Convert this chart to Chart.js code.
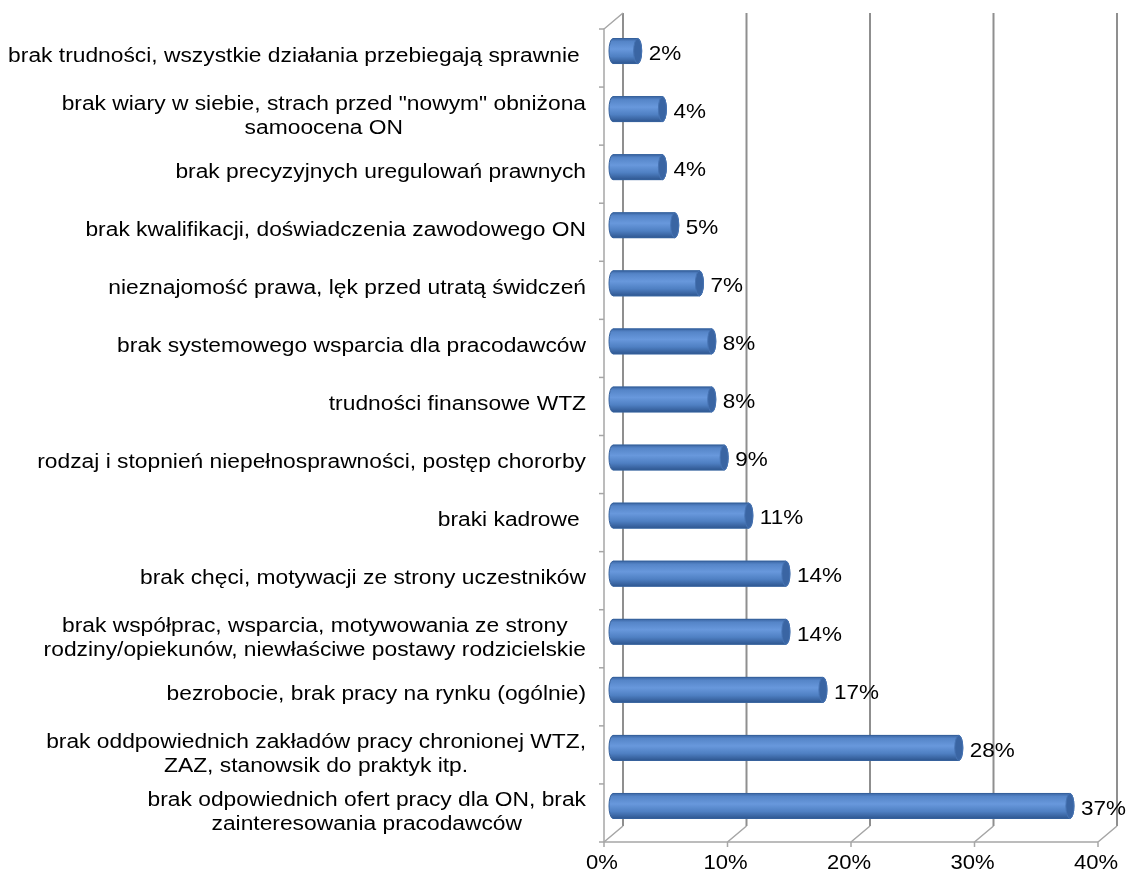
<!DOCTYPE html>
<html>
<head>
<meta charset="utf-8">
<script src="https://cdn.jsdelivr.net/npm/chart.js@4"></script>
<style>
  html, body { margin: 0; padding: 0; background: #fff; }
  #wrap { width: 1131px; height: 879px; }
</style>
</head>
<body>
<div id="wrap"><canvas id="chart" width="1131" height="879"></canvas></div>
<script>
// categories, top to bottom (multi-line labels as arrays)
const categories = [
    ['brak trudności, wszystkie działania przebiegają sprawnie '],
    ['brak wiary w siebie, strach przed "nowym" obniżona', 'samoocena ON'],
    ['brak precyzyjnych uregulowań prawnych'],
    ['brak kwalifikacji, doświadczenia zawodowego ON'],
    ['nieznajomość prawa, lęk przed utratą świdczeń'],
    ['brak systemowego wsparcia dla pracodawców'],
    ['trudności finansowe WTZ'],
    ['rodzaj i stopnień niepełnosprawności, postęp chororby'],
    ['braki kadrowe '],
    ['brak chęci, motywacji ze strony uczestników'],
    ['brak współprac, wsparcia, motywowania ze strony', 'rodziny/opiekunów, niewłaściwe postawy rodzicielskie'],
    ['bezrobocie, brak pracy na rynku (ogólnie)'],
    ['brak oddpowiednich zakładów pracy chronionej WTZ,', 'ZAZ, stanowsik do praktyk itp.'],
    ['brak odpowiednich ofert pracy dla ON, brak', 'zainteresowania pracodawców']
];
const values = [2, 4, 4, 5, 7, 8, 8, 9, 11, 14, 14, 17, 28, 37];
const xTicks = [0, 10, 20, 30, 40];

const FONT = '"Liberation Sans", Arial, sans-serif';
const DEPTH = { x: 19, y: -16 };   // back wall offset
const BAR_SHIFT = { x: 9, y: -7 };   // bars sit mid-depth
const TEXT_STRETCH = 1.14;          // the original text is a bit wide

// draw text stretched horizontally, anchored by its centre
function wideText(ctx, txt, cx, cy, sx) {
    ctx.save();
    ctx.translate(cx, cy);
    ctx.scale(sx, 1);
    ctx.textAlign = 'center';
    ctx.fillText(txt, 0, 0);
    ctx.restore();
}

const wallsPlugin = {
    id: 'walls',
    beforeDatasetsDraw(chart) {
        const ctx = chart.ctx;
        const xs = chart.scales.x;
        const a = chart.chartArea;
        ctx.save();
        // back wall gridlines
        ctx.strokeStyle = '#8f8f8f';
        ctx.lineWidth = 2;
        xTicks.forEach(v => {
            const px = xs.getPixelForValue(v) + DEPTH.x;
            ctx.beginPath();
            ctx.moveTo(px, a.top + DEPTH.y);
            ctx.lineTo(px, a.bottom + DEPTH.y);
            ctx.stroke();
        });
        // floor diagonals + front edge
        ctx.strokeStyle = '#a6a6a6';
        ctx.lineWidth = 1.5;
        xTicks.forEach(v => {
            const px = xs.getPixelForValue(v);
            ctx.beginPath();
            ctx.moveTo(px, a.bottom);
            ctx.lineTo(px + DEPTH.x, a.bottom + DEPTH.y);
            ctx.moveTo(px, a.bottom);
            ctx.lineTo(px, a.bottom + 5);
            ctx.stroke();
        });
        ctx.beginPath();
        ctx.moveTo(a.left, a.bottom);
        ctx.lineTo(a.right, a.bottom);
        // left wall front edge and top diagonal
        ctx.moveTo(a.left, a.bottom);
        ctx.lineTo(a.left, a.top);
        ctx.lineTo(a.left + DEPTH.x, a.top + DEPTH.y);
        ctx.stroke();
        // category ticks on the left edge
        const step = (a.bottom - a.top) / categories.length;
        for (let i = 0; i <= categories.length; i++) {
            const py = a.top + i * step;
            ctx.beginPath();
            ctx.moveTo(a.left - 5, py);
            ctx.lineTo(a.left, py);
            ctx.stroke();
        }
        ctx.restore();

        // bars drawn mid-depth
        ctx.save();
        ctx.translate(BAR_SHIFT.x, BAR_SHIFT.y);
    },
    afterDatasetsDraw(chart) {
        const ctx = chart.ctx;
        ctx.restore();
        const meta = chart.getDatasetMeta(0);
        ctx.save();
        ctx.translate(BAR_SHIFT.x, BAR_SHIFT.y);
        meta.data.forEach((bar, i) => {
            const h = bar.height;
            const top = bar.y - h / 2, bottom = bar.y + h / 2;
            const rx = 4, ry = h / 2;
            const g = ctx.createLinearGradient(0, top, 0, bottom);
            g.addColorStop(0, '#3c67a5');
            g.addColorStop(0.12, '#5585c8');
            g.addColorStop(0.42, '#6898dc');
            g.addColorStop(0.72, '#4f80c3');
            g.addColorStop(1, '#2f5791');
            ctx.beginPath();
            ctx.moveTo(bar.base, top);
            ctx.lineTo(bar.x, top);
            ctx.ellipse(bar.x, bar.y, rx, ry, 0, -Math.PI / 2, Math.PI / 2);
            ctx.lineTo(bar.base, bottom);
            ctx.ellipse(bar.base, bar.y, rx, ry, 0, Math.PI / 2, Math.PI * 1.5);
            ctx.closePath();
            ctx.fillStyle = g;
            ctx.fill();
            ctx.strokeStyle = '#35609b';
            ctx.lineWidth = 1;
            ctx.stroke();
            // end cap
            ctx.beginPath();
            ctx.ellipse(bar.x, bar.y, rx, ry, 0, 0, Math.PI * 2);
            ctx.fillStyle = '#3a65a3';
            ctx.fill();
            ctx.strokeStyle = '#4673b3';
            ctx.stroke();
            // value label
            ctx.fillStyle = '#000';
            ctx.font = '21px ' + FONT;
            ctx.textBaseline = 'middle';
            const txt = values[i] + '%';
            const w = ctx.measureText(txt).width * 1.07;
            wideText(ctx, txt, bar.x + rx + 7 + w / 2, bar.y + 3, 1.07);
        });
        ctx.restore();
    },
    afterDraw(chart) {
        const ctx = chart.ctx;
        const xs = chart.scales.x, ys = chart.scales.y;
        const a = chart.chartArea;
        ctx.save();
        ctx.fillStyle = '#000';
        // x tick labels
        ctx.font = '21px ' + FONT;
        ctx.textBaseline = 'middle';
        xTicks.forEach(v => wideText(ctx, v + '%', xs.getPixelForValue(v) - 2, a.bottom + 21, 1.05));
        // category labels: block right-aligned, lines centred
        ctx.font = '20px ' + FONT;
        const right = 586, lh = 24;
        categories.forEach((lines, i) => {
            const cy = ys.getPixelForValue(i) - 2 + (lines.length - 1) * 2;
            const w = Math.max(...lines.map(l => ctx.measureText(l).width)) * TEXT_STRETCH;
            const cx = right - w / 2;
            lines.forEach((l, j) => {
                wideText(ctx, l, cx, cy + (j - (lines.length - 1) / 2) * lh, TEXT_STRETCH);
            });
        });
        ctx.restore();
    }
};

new Chart(document.getElementById('chart'), {
    type: 'bar',
    data: {
        labels: categories,
        datasets: [{
            data: values,
            backgroundColor: '#4f81bd',
            barThickness: 25
        }]
    },
    options: {
        indexAxis: 'y',
        responsive: false,
        animation: false,
        layout: { padding: { left: 604, right: 33, top: 29, bottom: 37 } },
        scales: {
            x: { min: 0, max: 40, display: false },
            y: { display: false }
        },
        plugins: { legend: { display: false }, tooltip: { enabled: false } }
    },
    plugins: [wallsPlugin]
});
</script>
</body>
</html>
